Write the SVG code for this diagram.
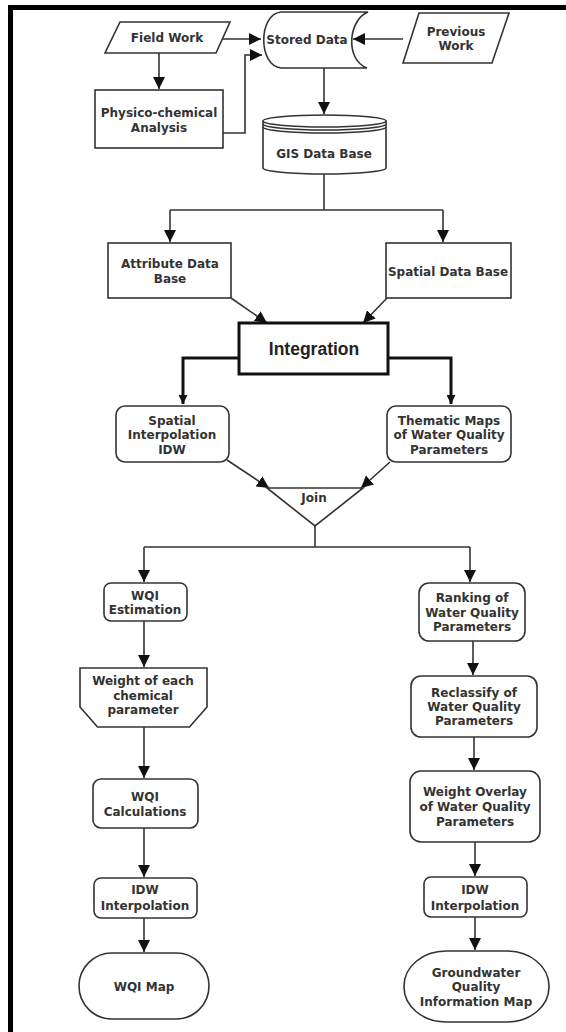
<svg xmlns="http://www.w3.org/2000/svg" width="566" height="1032" viewBox="0 0 566 1032">
<defs>
<style>
.n{fill:#fff;stroke:#333;stroke-width:1.6}
.t{font-family:"DejaVu Sans",Verdana,sans-serif;font-weight:bold;font-size:12px;fill:#333;text-anchor:middle}
.c{fill:none;stroke:#333;stroke-width:1.6}
.ck{fill:none;stroke:#111;stroke-width:3}
</style>
<marker id="ah" markerUnits="userSpaceOnUse" markerWidth="13" markerHeight="12" refX="12" refY="6" orient="auto" viewBox="0 0 13 12">
<path d="M0,0 L12,6 L0,12 z" fill="#111"/>
</marker>
<marker id="ah2" markerUnits="userSpaceOnUse" markerWidth="10" markerHeight="9" refX="9" refY="4.5" orient="auto" viewBox="0 0 10 9">
<path d="M0,0 L9,4.5 L0,9 z" fill="#111"/>
</marker>
</defs>
<rect width="566" height="1032" fill="#fff"/>
<path d="M10.5,1032 V7.5 H566" fill="none" stroke="#000" stroke-width="5"/>

<g id="connectors">
<path class="c" d="M220,39 H261" marker-end="url(#ah)"/>
<path class="c" d="M403,39 H353" marker-end="url(#ah)"/>
<path class="c" d="M159,53 V89" marker-end="url(#ah)"/>
<path class="c" d="M223,133 H245 V55 H262" marker-end="url(#ah)"/>
<path class="c" d="M324,68 V114" marker-end="url(#ah)"/>
<path class="c" d="M324,174 V210"/>
<path class="c" d="M170,210 H443"/>
<path class="c" d="M170,210 V242" marker-end="url(#ah)"/>
<path class="c" d="M443,210 V242" marker-end="url(#ah)"/>
<path class="c" d="M231,298 L267,323" marker-end="url(#ah)"/>
<path class="c" d="M387,298 L363,323" marker-end="url(#ah)"/>
<path class="ck" d="M239,358 H183 V404" marker-end="url(#ah2)"/>
<path class="ck" d="M388,358 H451 V404" marker-end="url(#ah2)"/>
<path class="c" d="M227,460 L269,488" marker-end="url(#ah)"/>
<path class="c" d="M390,462 L361,488" marker-end="url(#ah)"/>
<path class="c" d="M315,526 V547"/>
<path class="c" d="M144,547 H470"/>
<path class="c" d="M144,547 V582" marker-end="url(#ah)"/>
<path class="c" d="M470,547 V582" marker-end="url(#ah)"/>
<path class="c" d="M144,621 V667" marker-end="url(#ah)"/>
<path class="c" d="M144,727 V778" marker-end="url(#ah)"/>
<path class="c" d="M144,828 V877" marker-end="url(#ah)"/>
<path class="c" d="M144,918 V952" marker-end="url(#ah)"/>
<path class="c" d="M473,641 V675" marker-end="url(#ah)"/>
<path class="c" d="M474,737 V770" marker-end="url(#ah)"/>
<path class="c" d="M475,842 V876" marker-end="url(#ah)"/>
<path class="c" d="M475,917 V950" marker-end="url(#ah)"/>
</g>

<g id="field-work">
<polygon class="n" points="120,22 230,22 216,53 105,53"/>
<text class="t" x="167" y="42">Field Work</text>
</g>
<g id="stored-data">
<path class="n" d="M281,12 L368,12 C348,20 345,60 367,68 L281,68 C258,66 258,14 281,12 Z"/>
<text class="t" x="307" y="44">Stored Data</text>
</g>
<g id="previous-work">
<polygon class="n" points="419,13 509,13 492,63 403,63"/>
<text class="t" x="456" y="36">Previous</text>
<text class="t" x="456" y="50">Work</text>
</g>
<g id="physico">
<rect class="n" x="95" y="90" width="128" height="58"/>
<text class="t" x="159" y="117">Physico-chemical</text>
<text class="t" x="159" y="132">Analysis</text>
</g>
<g id="gis">
<path class="n" d="M263,121 V168 A61.5,6 0 0 0 386,168 V121 A61.5,6 0 0 0 263,121 Z"/>
<path class="c" d="M263,121 A61.5,6 0 0 0 386,121 M263,124 A61.5,6 0 0 0 386,124 M263,127 A61.5,6 0 0 0 386,127"/>
<text class="t" x="324" y="158">GIS Data Base</text>
</g>
<g id="attribute">
<rect class="n" x="108" y="243" width="123" height="55"/>
<text class="t" x="170" y="268">Attribute Data</text>
<text class="t" x="170" y="283">Base</text>
</g>
<g id="spatial-db">
<rect class="n" x="386" y="243" width="125" height="55"/>
<text class="t" x="448" y="276">Spatial Data Base</text>
</g>
<g id="integration">
<rect x="239" y="323" width="149" height="51" fill="#fff" stroke="#111" stroke-width="3"/>
<text x="314" y="355" font-family="Liberation Sans, Arial, sans-serif" font-weight="bold" font-size="17.5" fill="#222" text-anchor="middle">Integration</text>
</g>
<g id="spatial-interp">
<rect class="n" x="116" y="406" width="113" height="56" rx="9"/>
<text class="t" x="172" y="425">Spatial</text>
<text class="t" x="172" y="439">Interpolation</text>
<text class="t" x="172" y="454">IDW</text>
</g>
<g id="thematic">
<rect class="n" x="387" y="406" width="124" height="56" rx="9"/>
<text class="t" x="449" y="425">Thematic Maps</text>
<text class="t" x="449" y="439">of Water Quality</text>
<text class="t" x="449" y="454">Parameters</text>
</g>
<g id="join">
<polygon class="n" points="267,488 363,488 315,526"/>
<text class="t" x="314" y="502">Join</text>
</g>
<g id="wqi-est">
<rect class="n" x="104" y="583" width="83" height="38" rx="7"/>
<text class="t" x="145" y="600">WQI</text>
<text class="t" x="145" y="614">Estimation</text>
</g>
<g id="weight-each">
<polygon class="n" points="80,668 207,668 207,707 189.5,727 97.5,727 80,707"/>
<text class="t" x="143" y="685">Weight of each</text>
<text class="t" x="143" y="700">chemical</text>
<text class="t" x="143" y="714">parameter</text>
</g>
<g id="wqi-calc">
<rect class="n" x="93" y="779" width="105" height="49" rx="8"/>
<text class="t" x="145" y="801">WQI</text>
<text class="t" x="145" y="816">Calculations</text>
</g>
<g id="idw-left">
<rect class="n" x="94" y="878" width="103" height="40" rx="7"/>
<text class="t" x="145" y="894">IDW</text>
<text class="t" x="145" y="910">Interpolation</text>
</g>
<g id="wqi-map">
<rect class="n" x="79" y="953" width="130" height="66" rx="33" ry="33"/>
<text class="t" x="144" y="991">WQI Map</text>
</g>
<g id="ranking">
<rect class="n" x="419" y="583" width="106" height="58" rx="10"/>
<text class="t" x="472" y="602">Ranking of</text>
<text class="t" x="472" y="617">Water Quality</text>
<text class="t" x="472" y="631">Parameters</text>
</g>
<g id="reclassify">
<rect class="n" x="411" y="676" width="126" height="61" rx="10"/>
<text class="t" x="474" y="697">Reclassify of</text>
<text class="t" x="474" y="711">Water Quality</text>
<text class="t" x="474" y="725">Parameters</text>
</g>
<g id="weight-overlay">
<rect class="n" x="410" y="771" width="130" height="71" rx="11"/>
<text class="t" x="475" y="796">Weight Overlay</text>
<text class="t" x="475" y="811">of Water Quality</text>
<text class="t" x="475" y="826">Parameters</text>
</g>
<g id="idw-right">
<rect class="n" x="424" y="877" width="103" height="40" rx="7"/>
<text class="t" x="475" y="894">IDW</text>
<text class="t" x="475" y="910">Interpolation</text>
</g>
<g id="gw-map">
<rect class="n" x="404" y="951" width="145" height="71" rx="42" ry="35"/>
<text class="t" x="476" y="977">Groundwater</text>
<text class="t" x="476" y="991">Quality</text>
<text class="t" x="476" y="1006">Information Map</text>
</g>
</svg>
